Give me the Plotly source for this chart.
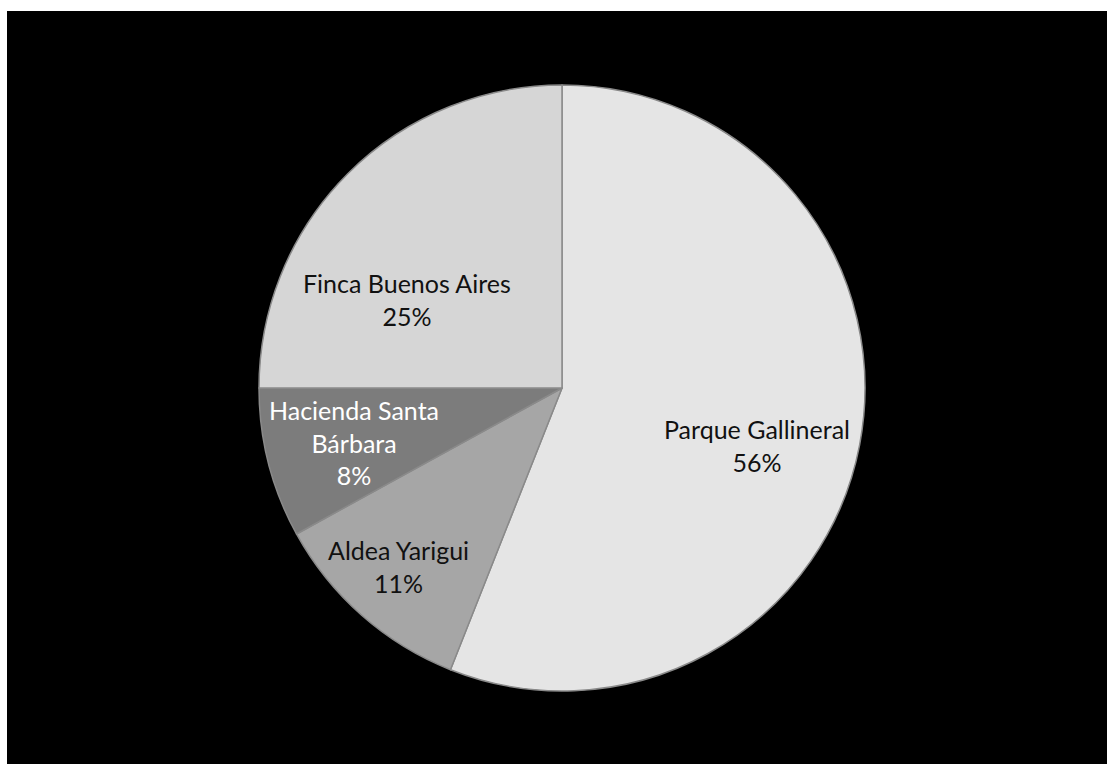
import math
import plotly.graph_objects as go

# Share of visitors by site (percent), clockwise from 12 o'clock
labels = ["Parque Gallineral", "Aldea Yarigui", "Hacienda Santa Bárbara", "Finca Buenos Aires"]
wrapped = ["Parque Gallineral", "Aldea Yarigui", "Hacienda Santa<br>Bárbara", "Finca Buenos Aires"]
values = [56, 11, 8, 25]

colors = ["#e5e5e5", "#a6a6a6", "#7c7c7c", "#d6d6d6"]
text_colors = ["#111111", "#111111", "#ffffff", "#111111"]
# label placement per slice: (fraction of radius, angle shift in degrees)
label_pos = [(0.67, 5.8), (0.80, 1.1), (0.71, -0.4), (0.59, -15.4)]

W, H = 1107, 764
CX, CY, R = 562, 388, 303  # pie centre and radius in pixels (y from top)

fig = go.Figure()
fig.add_trace(go.Pie(
    labels=labels,
    values=values,
    sort=False,
    direction="clockwise",
    rotation=0,
    textinfo="none",
    hoverinfo="label+percent",
    marker=dict(colors=colors, line=dict(color="#8a8a8a", width=1.5)),
    domain=dict(x=[(CX - R) / W, (CX + R) / W],
                y=[(H - CY - R) / H, (H - CY + R) / H]),
    showlegend=False,
))

# data labels positioned from each slice's mid angle
total = sum(values)
cum = 0.0
for name, v, tc, (frac, shift) in zip(wrapped, values, text_colors, label_pos):
    mid = (cum + v / 2) / total * 360.0 + shift
    cum += v
    a = math.radians(mid)
    px = CX + frac * R * math.sin(a)
    py = CY - frac * R * math.cos(a)
    fig.add_annotation(
        x=px / W, y=1 - py / H, xref="paper", yref="paper",
        xanchor="center", yanchor="middle",
        text=f"{name}<br>{round(v / total * 100)}%",
        showarrow=False, align="center",
        font=dict(family="Lato, Open Sans, sans-serif", size=25, color=tc),
    )

# black chart area inside a thin white border
fig.add_shape(type="rect", xref="paper", yref="paper",
              x0=7 / W, x1=1, y0=0, y1=1 - 11 / H,
              fillcolor="black", line=dict(width=0), layer="below")

fig.update_layout(
    width=W, height=H,
    margin=dict(l=0, r=0, t=0, b=0),
    paper_bgcolor="white",
    plot_bgcolor="white",
)

fig.write_html("out.html")
